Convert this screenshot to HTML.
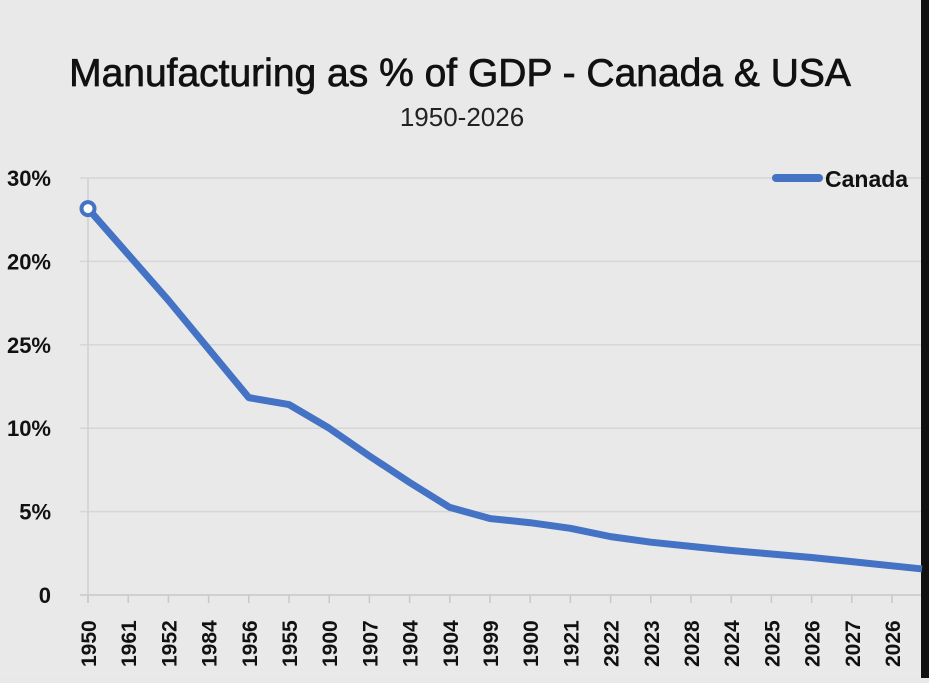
<!DOCTYPE html>
<html><head><meta charset="utf-8"><style>
body{margin:0;width:929px;height:678px;overflow:hidden;background:#e8e8e8;font-family:"Liberation Sans",sans-serif}
</style></head><body>
<svg width="929" height="678" xmlns="http://www.w3.org/2000/svg">
<rect width="929" height="678" fill="#e9e9e9"/>
<rect x="921" y="0" width="8" height="678" fill="#111"/>
<text x="460" y="86" text-anchor="middle" font-size="39" fill="#111" stroke="#111" stroke-width="0.7">Manufacturing as % of GDP - Canada &amp; USA</text>
<text x="462" y="126" text-anchor="middle" font-size="26" fill="#222">1950-2026</text>
<g id="grid"></g><g id="ylab"></g><g id="xlab"></g><g id="series"></g>
<line x1="776" y1="178" x2="819" y2="178" stroke="#4472c4" stroke-width="8" stroke-linecap="round"/>
<text x="825" y="187" font-size="23" font-weight="bold" fill="#111">Canada</text>
</svg>
<script>
const categories=["1950","1961","1952","1984","1956","1955","1900","1907","1904","1904","1999","1900","1921","2922","2023","2028","2024","2025","2026","2027","2026"];
const canada=[27.8,24.5,21.2,17.7,14.2,13.7,12.0,10.0,8.1,6.3,5.5,5.2,4.8,4.2,3.8,3.5,3.2,2.95,2.7,2.4,2.1];
const yTicks=[0,6,12,18,24,30];
const yTickLabels=["0","5%","10%","25%","20%","30%"];
const NS="http://www.w3.org/2000/svg";
const x0=88,dx=40.2,yBase=595,yTop=178,yMax=30;
function xs(i){return x0+i*dx;}
function ys(v){return yBase-(v/yMax)*(yBase-yTop);}
function mk(t,a){const e=document.createElementNS(NS,t);for(const k in a)e.setAttribute(k,a[k]);return e;}
const grid=document.getElementById('grid'),ylab=document.getElementById('ylab'),xlab=document.getElementById('xlab'),ser=document.getElementById('series');
yTicks.forEach((v,i)=>{
 const l=mk('line',{x1:80,x2:921,y1:ys(v),y2:ys(v),stroke:v===0?'#c8c8c8':'#d6d6d6','stroke-width':1.5});
 
 
 grid.appendChild(l);
 const t=mk('text',{x:51,y:ys(v)+8,'text-anchor':'end','font-size':22,'font-weight':'bold',fill:'#111'});
 t.textContent=yTickLabels[i];
 
 
 ylab.appendChild(t);
});
const vl=mk('line',{x1:xs(0),x2:xs(0),y1:yTop,y2:yBase+8,stroke:'#d0d0d0','stroke-width':1.5});


grid.appendChild(vl);
categories.forEach((c,i)=>{
 const tk=mk('line',{x1:xs(i),x2:xs(i),y1:yBase,y2:yBase+8,stroke:'#c8c8c8','stroke-width':1.5});
 
 
 grid.appendChild(tk);
 const t=mk('text',{transform:`translate(${xs(i)+8},667) rotate(-90)`,'font-size':21,'font-weight':'bold',fill:'#111'});
 t.textContent=c;
 
 
 xlab.appendChild(t);
});
const pts=canada.map((v,i)=>xs(i)+','+ys(v)).join(' ');
const n=canada.length-1;
const slope=(ys(canada[n])-ys(canada[n-1]))/dx;
const ext=xs(n)+30;
const pl=mk('polyline',{points:pts+' '+ext+','+(ys(canada[n])+slope*30),fill:'none',stroke:'#4472c4','stroke-width':7,'stroke-linejoin':'round'});


ser.appendChild(pl);
const c0=mk('circle',{cx:xs(0),cy:ys(canada[0]),r:6.5,fill:'#fff',stroke:'#4472c4','stroke-width':4});


ser.appendChild(c0);
</script>
</body></html>
